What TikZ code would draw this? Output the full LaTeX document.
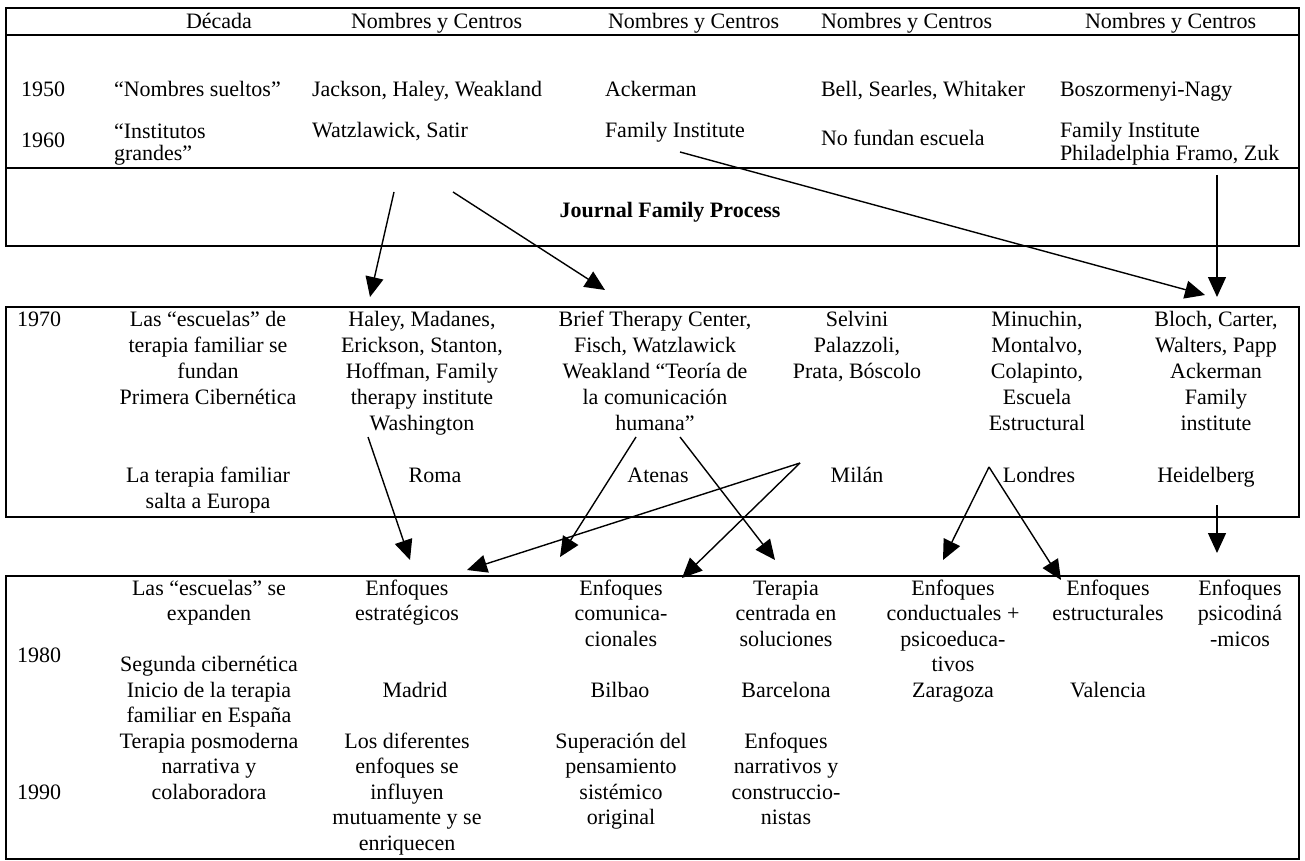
\documentclass[tikz,border=0pt]{standalone}
\usepackage{fontspec}
\setmainfont{Liberation Serif}
\usetikzlibrary{arrows.meta}
\begin{document}
\begin{tikzpicture}[x=1pt,y=-1pt,
  every node/.style={inner sep=0pt, outer sep=0pt},
  mcell/.style={font=\fontsize{22}{26}\selectfont, align=center, anchor=north},
  bcell/.style={font=\fontsize{22}{25.5}\selectfont, align=center, anchor=north},
  tcell/.style={font=\fontsize{22}{21}\selectfont, align=left, anchor=north west},
  word/.style={font=\fontsize{22}{25}\selectfont, anchor=base},
  lword/.style={font=\fontsize{22}{25}\selectfont, anchor=base west},
  boxframe/.style={draw=black, line width=2pt},
  arr/.style={draw=black, line width=1.4pt, -{Triangle[length=20pt,width=18pt]}},
]
\useasboundingbox (0,0) rectangle (1305,861);

% ---------- top box ----------
\draw[boxframe] (6,8) rectangle (1299,246);
\draw[boxframe] (6,35) -- (1299,35);
\draw[boxframe] (6,168) -- (1299,168);

\node[word]  (hdec) at (219,28.5) {Década};
\node[lword] (hnc1) at (351,28.5) {Nombres y Centros};
\node[lword] (hnc2) at (608,28.5) {Nombres y Centros};
\node[lword] (hnc3) at (821,28.5) {Nombres y Centros};
\node[lword] (hnc4) at (1085,28.5) {Nombres y Centros};

\node[lword] (y50)  at (21,97) {1950};
\node[lword] (n50a) at (114,97) {“Nombres sueltos”};
\node[lword] (n50b) at (312,97) {Jackson, Haley, Weakland};
\node[lword] (n50c) at (605,97) {Ackerman};
\node[lword] (n50d) at (821,97) {Bell, Searles, Whitaker};
\node[lword] (n50e) at (1060,97) {Boszormenyi-Nagy};

\node[lword] (y60)  at (21,148) {1960};
\node[tcell] (n60a) at (114,123.3) {\strut “Institutos\\grandes”};
\node[lword] (n60b) at (312,138) {Watzlawick, Satir};
\node[lword] (n60c) at (605,138) {Family Institute};
\node[lword] (n60d) at (821,146) {No fundan escuela};
\node[tcell] (n60e) at (1060,122.3) {\strut Family Institute\\Philadelphia Framo, Zuk};

\node[word, font=\fontsize{22}{25}\selectfont\bfseries] (jfp) at (670,217) {Journal Family Process};

% ---------- middle box ----------
\draw[boxframe] (6,307) rectangle (1299,517);
\node[lword] (y70) at (17,326) {1970};
\node[mcell] (m1) at (208,307.8) {\strut Las “escuelas” de\\terapia familiar se\\fundan\\Primera Cibernética};
\node[mcell] (m2) at (422,307.8) {\strut Haley, Madanes,\\Erickson, Stanton,\\Hoffman, Family\\therapy institute\\Washington};
\node[mcell] (m3) at (655,307.8) {\strut Brief Therapy Center,\\Fisch, Watzlawick\\Weakland “Teoría de\\la comunicación\\humana”};
\node[mcell] (m4) at (857,307.8) {\strut Selvini\\Palazzoli,\\Prata, Bóscolo};
\node[mcell] (m5) at (1037,307.8) {\strut Minuchin,\\Montalvo,\\Colapinto,\\Escuela\\Estructural};
\node[mcell] (m6) at (1216,307.8) {\strut Bloch, Carter,\\Walters, Papp\\Ackerman\\Family\\institute};

\node[mcell] (e1) at (208,463.8) {\strut La terapia familiar\\salta a Europa};
\node[word] (roma) at (435,482) {Roma};
\node[word] (atenas) at (658,482) {Atenas};
\node[word] (milan) at (857,482) {Milán};
\node[word] (londres) at (1039,482) {Londres};
\node[word] (heid) at (1206,482) {Heidelberg};

% ---------- bottom box ----------
\draw[boxframe] (6,576) rectangle (1299,859);
\node[lword] (y80) at (17,662) {1980};
\node[lword] (y90) at (17,799) {1990};
\node[bcell] (b1) at (209,577.15) {\strut Las “escuelas” se\\expanden};
\node[bcell] (b1b) at (209,653.65) {\strut Segunda cibernética\\Inicio de la terapia\\familiar en España\\Terapia posmoderna\\narrativa y\\colaboradora};
\node[bcell] (b2) at (407,577.15) {\strut Enfoques\\estratégicos};
\node[word] (madrid) at (415,697) {Madrid};
\node[bcell] (b2b) at (407,730.15) {\strut Los diferentes\\enfoques se\\influyen\\mutuamente y se\\enriquecen};
\node[bcell] (b3) at (621,577.15) {\strut Enfoques\\comunica-\\cionales};
\node[word] (bilbao) at (620,697) {Bilbao};
\node[bcell] (b3b) at (621,730.15) {\strut Superación del\\pensamiento\\sistémico\\original};
\node[bcell] (b4) at (786,577.15) {\strut Terapia\\centrada en\\soluciones};
\node[word] (barcelona) at (786,697) {Barcelona};
\node[bcell] (b4b) at (786,730.15) {\strut Enfoques\\narrativos y\\construccio-\\nistas};
\node[bcell] (b5) at (953,577.15) {\strut Enfoques\\conductuales +\\psicoeduca-\\tivos};
\node[word] (zaragoza) at (953,697) {Zaragoza};
\node[bcell] (b6) at (1108,577.15) {\strut Enfoques\\estructurales};
\node[word] (valencia) at (1108,697) {Valencia};
\node[bcell] (b7) at (1240,577.15) {\strut Enfoques\\psicodiná\\-micos};

% ---------- connectors ----------
\coordinate (a1s) at (394,192);  \coordinate (a1e) at (370,297);
\coordinate (a2s) at (453,192);  \coordinate (a2e) at (605,290);
\coordinate (a3s) at (680,152);  \coordinate (a3e) at (1205,295);
\coordinate (a4s) at (1217,175); \coordinate (a4e) at (1217,297);
\draw[arr] (a1s) -- (a1e);
\draw[arr] (a2s) -- (a2e);
\draw[arr] (a3s) -- (a3e);
\draw[arr] (a4s) -- (a4e);

\coordinate (b1s) at (368,437);  \coordinate (b1e) at (410,560);
\coordinate (b2s) at (636,437);  \coordinate (b2e) at (560,557);
\coordinate (b3s) at (680,437);  \coordinate (b3e) at (775,560);
\coordinate (vm)  at (800,463);
\coordinate (b4e) at (467,570);  \coordinate (b5e) at (682,578);
\coordinate (vl)  at (989,467);
\coordinate (b6e) at (943,560);  \coordinate (b7e) at (1061,580);
\coordinate (b8s) at (1217,505); \coordinate (b8e) at (1217,553);
\draw[arr] (b1s) -- (b1e);
\draw[arr] (b2s) -- (b2e);
\draw[arr] (b3s) -- (b3e);
\draw[arr] (vm) -- (b4e);
\draw[arr] (vm) -- (b5e);
\draw[arr] (vl) -- (b6e);
\draw[arr] (vl) -- (b7e);
\draw[arr] (b8s) -- (b8e);
\end{tikzpicture}
\end{document}
